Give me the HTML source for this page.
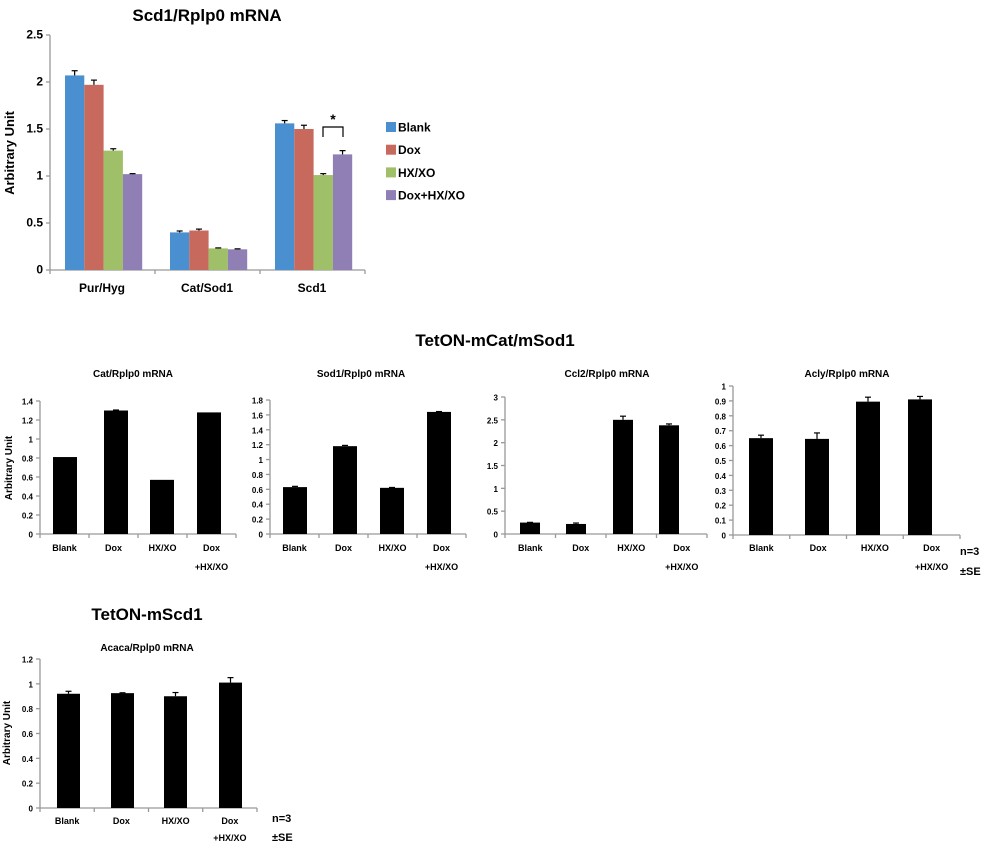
<!DOCTYPE html>
<html><head><meta charset="utf-8"><style>
body{margin:0;background:#fff;}
svg{display:block;font-family:"Liberation Sans",Arial,sans-serif;font-weight:bold;}
</style></head><body>
<svg id="s" width="992" height="843" xmlns="http://www.w3.org/2000/svg"></svg>
<script>
const s=document.getElementById('s');let h='';
function t(x,y,str,sz,anc,extra){h+=`<text x="${x}" y="${y}" font-size="${sz}" text-anchor="${anc||'middle'}" ${extra||''}>${str}</text>`;}
function ln(x1,y1,x2,y2,c,w){h+=`<line x1="${x1}" y1="${y1}" x2="${x2}" y2="${y2}" stroke="${c||'#999'}" stroke-width="${w||1.3}"/>`;}
function axis(ax,y0,yTop,xEnd,max,step,dec,cats,fs){
  ln(ax,yTop,ax,y0);ln(ax,y0,xEnd,y0);
  const n=Math.round(max/step);
  for(let i=0;i<=n;i++){const v=i*step,y=y0-(y0-yTop)*v/max;ln(ax-4,y,ax,y);
    let lab=+v.toFixed(dec);t(ax-7,y+3.5,lab,fs,'end');}
  const w=(xEnd-ax)/cats;for(let i=0;i<=cats;i++)ln(ax+w*i,y0,ax+w*i,y0+4);
}
function bar(x,w,v,y0,scale,col,err){const y=y0-v*scale;h+=`<rect x="${x}" y="${y}" width="${w}" height="${v*scale}" fill="${col}"/>`;
  if(err){const ye=y-err*scale;ln(x+w/2,y,x+w/2,ye,'#000',1.2);ln(x+w/2-3,ye,x+w/2+3,ye,'#000',1.2);}}
// top chart
t(207,21,'Scd1/Rplp0 mRNA',17);
axis(50,270,35,365,2.5,0.5,1,3,12);
t(14,153,'Arbitrary Unit',13,'middle','transform="rotate(-90 14 153)"');
const cols=['#4a8fd0','#c8695e','#9fbf68','#8f7fb5'];
const tv=[[2.07,1.97,1.27,1.02],[0.40,0.42,0.23,0.22],[1.56,1.50,1.01,1.23]];
const te=[[0.05,0.05,0.02,0.005],[0.015,0.015,0.005,0.005],[0.03,0.04,0.015,0.04]];
const gx=[65,170,275];
for(let g=0;g<3;g++)for(let i=0;i<4;i++)bar(gx[g]+i*19.3,19.3,tv[g][i],270,94,cols[i],te[g][i]);
['Pur/Hyg','Cat/Sod1','Scd1'].forEach((c,i)=>t(50+105*i+52,292,c,12));
h+=`<polyline points="323,137 323,127 343,127 343,137" fill="none" stroke="#000" stroke-width="1.2"/>`;
t(333,124,'*',14);
['Blank','Dox','HX/XO','Dox+HX/XO'].forEach((c,i)=>{const y=127+i*22.7;h+=`<rect x="386" y="${y-5}" width="10" height="10" fill="${cols[i]}"/>`;t(398,y+4.5,c,12,'start');});
// middle
t(495,346,'TetON-mCat/mSod1',17);
const cl=['Blank','Dox','HX/XO','Dox'];
function panel(title,tx,ax,y0,yTop,xEnd,max,step,dec,bx,bw,vals,errs){
  t(tx,377,title,10);
  axis(ax,y0,yTop,xEnd,max,step,dec,4,8);
  const sc=(y0-yTop)/max;
  vals.forEach((v,i)=>bar(bx[i],bw,v,y0,sc,'#000',errs[i]));
  const w=(xEnd-ax)/4;
  cl.forEach((c,i)=>t(ax+w*i+w/2,551,c,9));
  t(ax+w*3.5,570,'+HX/XO',9);
}
panel('Cat/Rplp0 mRNA',133,40,534,401,236,1.4,0.2,1,[53,104,150,197],24,[0.81,1.30,0.57,1.28],[0,0.005,0,0]);
panel('Sod1/Rplp0 mRNA',361,270,534,400,466,1.8,0.2,1,[283,333,380,427],24,[0.63,1.18,0.62,1.64],[0.01,0.01,0.005,0.005]);
panel('Ccl2/Rplp0 mRNA',607,505,534,397,707,3,0.5,1,[520,566,613,659],20,[0.25,0.22,2.5,2.38],[0.005,0.02,0.08,0.03]);
panel('Acly/Rplp0 mRNA',847,733,535,386,960,1,0.1,1,[749,805,856,908],24,[0.65,0.645,0.895,0.91],[0.02,0.04,0.03,0.02]);
t(960,555,'n=3',11,'start');t(960,575,'±SE',11,'start');
t(12,468,'Arbitrary Unit',10,'middle','transform="rotate(-90 12 468)"');
// bottom
t(147,620,'TetON-mScd1',17);
t(147,651,'Acaca/Rplp0 mRNA',10);
axis(40,808,659,257,1.2,0.2,1,4,8);
[57,111,164,219].forEach((x,i)=>bar(x,23,[0.92,0.925,0.90,1.01][i],808,149/1.2,'#000',[0.02,0.003,0.03,0.04][i]));
const bw=(257-40)/4;cl.forEach((c,i)=>t(40+bw*i+bw/2,824,c,9));t(40+bw*3.5,841,'+HX/XO',9);
t(272,822,'n=3',11,'start');t(272,841,'±SE',11,'start');
t(10,733,'Arbitrary Unit',10,'middle','transform="rotate(-90 10 733)"');
s.innerHTML=h;
</script>
</body></html>
